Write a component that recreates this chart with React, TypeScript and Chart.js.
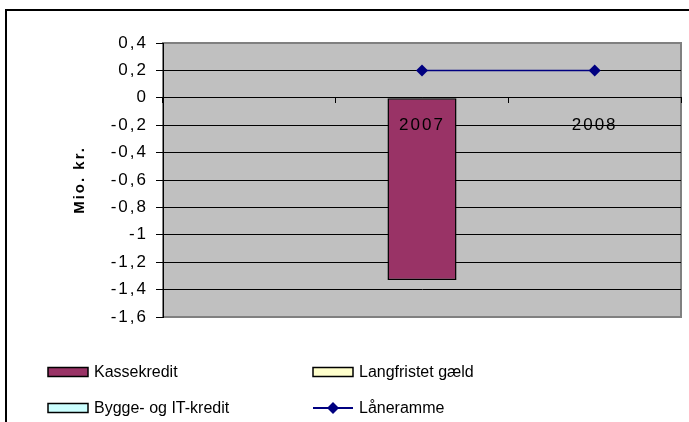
import React, { useEffect, useRef } from 'react';
import { Chart, registerables } from 'chart.js';

Chart.register(...registerables);

// ---- data ----
const categories = ['', '2007', '2008'];
const kassekredit: (number | null)[] = [null, -1.33, null];
const langfristetGaeld: (number | null)[] = [null, 0, 0];
const byggeItKredit: (number | null)[] = [null, 0, 0];
const laaneramme: (number | null)[] = [null, 0.2, 0.2];
const yMin = -1.6;
const yMax = 0.4;
const yStep = 0.2;

const FONT = "Arial, 'Liberation Sans', sans-serif";
const AXIS_SPACING = '2px';

const fmt = (v: number | string) => {
  const r = Math.round(Number(v) * 10) / 10;
  const s = String(r === 0 ? 0 : r);
  return s.replace('.', ',');
};

const spacingPlugin = {
  id: 'spacing',
  beforeUpdate(chart: any) {
    chart.ctx.letterSpacing = AXIS_SPACING;
  },
  beforeDraw(chart: any) {
    chart.ctx.letterSpacing = AXIS_SPACING;
  },
};

const framePlugin = {
  id: 'frame',
  beforeDraw(chart: any) {
    const { ctx, chartArea } = chart;
    ctx.save();
    ctx.fillStyle = '#ffffff';
    ctx.fillRect(0, 0, chart.width, chart.height);
    ctx.strokeStyle = '#000000';
    ctx.lineWidth = 2;
    ctx.strokeRect(6, 10, 1000, 1000);
    ctx.fillStyle = '#C0C0C0';
    ctx.fillRect(chartArea.left, chartArea.top, chartArea.right - chartArea.left, chartArea.bottom - chartArea.top);
    ctx.strokeStyle = '#808080';
    ctx.lineWidth = 2;
    ctx.strokeRect(chartArea.left, chartArea.top, chartArea.right - chartArea.left, chartArea.bottom - chartArea.top);
    ctx.restore();
  },
};

const legendPlugin = {
  id: 'xlLegend',
  afterDraw(chart: any) {
    const { ctx } = chart;
    const colX = [48, 313];
    const rowY = [372, 408];
    ctx.save();
    ctx.letterSpacing = '0px';
    chart.data.datasets.forEach((ds: any, i: number) => {
      const col = i % 2;
      const row = Math.floor(i / 2);
      const x = colX[col];
      const y = rowY[row];
      if (ds.type === 'line') {
        ctx.strokeStyle = ds.borderColor;
        ctx.lineWidth = 2;
        ctx.beginPath();
        ctx.moveTo(x, y);
        ctx.lineTo(x + 40, y);
        ctx.stroke();
        ctx.fillStyle = ds.pointBackgroundColor;
        ctx.beginPath();
        ctx.moveTo(x + 20, y - 6);
        ctx.lineTo(x + 26, y);
        ctx.lineTo(x + 20, y + 6);
        ctx.lineTo(x + 14, y);
        ctx.closePath();
        ctx.fill();
      } else {
        ctx.fillStyle = ds.backgroundColor;
        ctx.fillRect(x, y - 4.5, 40, 9);
        ctx.strokeStyle = '#000000';
        ctx.lineWidth = 1.5;
        ctx.strokeRect(x, y - 4.5, 40, 9);
      }
      ctx.fillStyle = '#000000';
      ctx.font = `16px ${FONT}`;
      ctx.textBaseline = 'middle';
      ctx.textAlign = 'left';
      ctx.fillText(ds.label, x + 46, y + 1);
    });
    ctx.restore();
  },
};

export default function App() {
  const ref = useRef<HTMLCanvasElement | null>(null);

  useEffect(() => {
    document.body.style.margin = '0';
    if (!ref.current) return;
    const barCommon = {
      type: 'bar' as const,
      borderColor: '#000000',
      borderWidth: 1.5,
      borderSkipped: false,
      categoryPercentage: 1,
      barPercentage: 0.4,
      stack: 'bars',
      order: 2,
    };
    const chart = new Chart(ref.current, {
      type: 'bar',
      data: {
        labels: categories,
        datasets: [
          { ...barCommon, label: 'Kassekredit', data: kassekredit, backgroundColor: '#993366' },
          { ...barCommon, label: 'Langfristet gæld', data: langfristetGaeld, backgroundColor: '#FFFFCC' },
          { ...barCommon, label: 'Bygge- og IT-kredit', data: byggeItKredit, backgroundColor: '#CCFFFF' },
          {
            type: 'line' as const,
            label: 'Låneramme',
            data: laaneramme,
            borderColor: '#000080',
            backgroundColor: '#000080',
            borderWidth: 1.5,
            pointStyle: 'rectRot',
            pointRadius: 6,
            pointBackgroundColor: '#000080',
            pointBorderColor: '#000080',
            pointBorderWidth: 0,
            stack: 'line',
            order: 1,
            spanGaps: false,
          },
        ] as any,
      },
      options: {
        responsive: false,
        animation: false,
        layout: { padding: { top: 43, right: 8, bottom: 105, left: 0 } },
        plugins: {
          legend: { display: false },
          tooltip: { enabled: false },
        },
        scales: {
          x: {
            stacked: true,
            position: { y: 0 } as any,
            afterFit: (s: any) => { s.height = 0; },
            grid: {
              display: true,
              drawOnChartArea: false,
              drawTicks: true,
              tickLength: 5,
              tickColor: '#000000',
              offset: true,
            },
            border: { display: true, color: '#000000', width: 1 },
            ticks: { color: '#000000', font: { family: FONT, size: 17 }, padding: 12, maxRotation: 0, autoSkip: false, z: 1 },
          },
          y: {
            stacked: true,
            min: yMin,
            max: yMax,
            afterFit: (s: any) => { s.width = 163; },
            ticks: {
              stepSize: yStep,
              color: '#000000',
              font: { family: FONT, size: 17 },
              padding: 8,
              callback: (v: any) => fmt(v),
            },
            grid: {
              color: (c: any) => {
                const v = c.tick ? c.tick.value : 0;
                if (Math.abs(v - yMax) < 1e-6 || Math.abs(v - yMin) < 1e-6) return 'rgba(0,0,0,0)';
                return '#000000';
              },
              tickColor: '#000000',
              tickLength: 7,
              lineWidth: 1,
            },
            border: { display: true, color: '#000000', width: 1 },
            title: {
              display: true,
              text: 'Mio. kr.',
              color: '#000000',
              font: { family: FONT, size: 15, weight: 'bold' },
              padding: { top: 71, bottom: 0 },
            },
          },
        },
      },
      plugins: [spacingPlugin, framePlugin, legendPlugin],
    });
    return () => chart.destroy();
  }, []);

  return (
    <div style={{ width: 689, height: 422 }}>
      <canvas ref={ref} width={689} height={422} style={{ display: 'block' }} />
    </div>
  );
}
